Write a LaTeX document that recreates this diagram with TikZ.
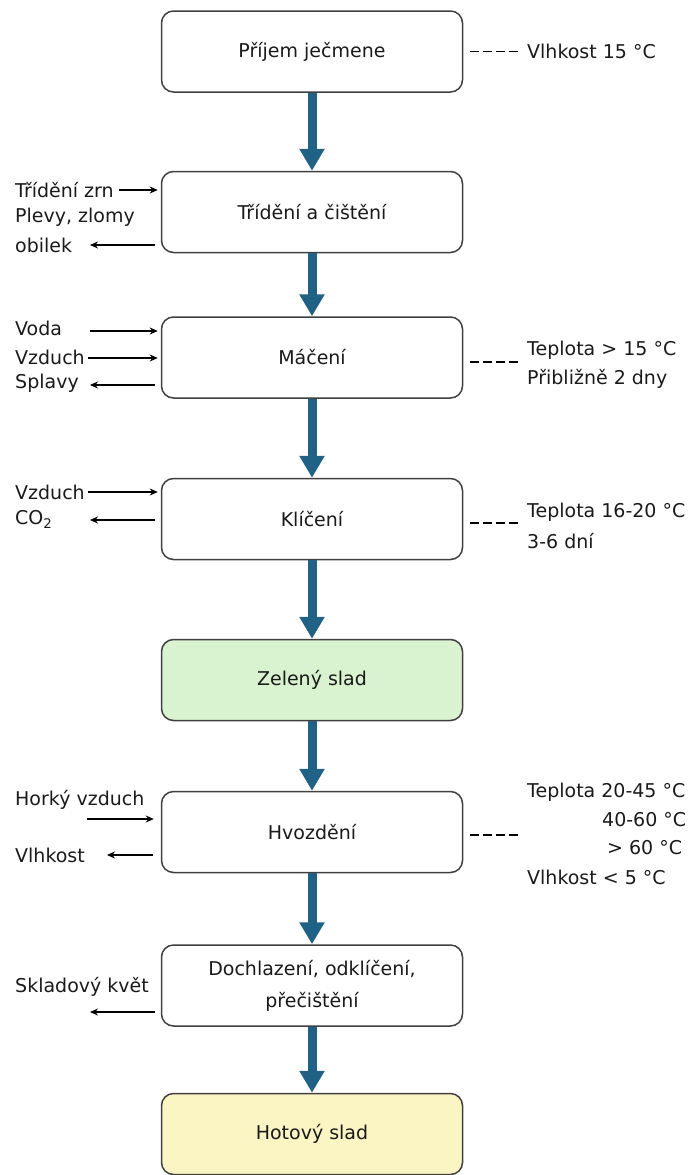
\documentclass[tikz,border=0pt]{standalone}
\usepackage{fontspec}
\setmainfont{DejaVu Sans}
\usetikzlibrary{arrows.meta}
\definecolor{flowblue}{HTML}{1F6285}
\definecolor{boxline}{HTML}{404040}
\definecolor{greenfill}{HTML}{D9F2D0}
\definecolor{yellowfill}{HTML}{FAF5C2}
\definecolor{txt}{HTML}{1A1A1A}
\tikzset{
  procbox/.style={draw=boxline, line width=1.5pt, rounded corners=12pt, fill=white,
    minimum width=301pt, minimum height=81pt, align=center, inner sep=2pt,
    font=\fontsize{19}{32}\selectfont, text=txt},
  flow/.style={draw=flowblue, line width=9pt, -{Triangle[width=24pt,length=22pt]}},
  sidearrow/.style={draw=black, line width=1.2pt, -{Stealth[length=8pt,width=7pt]}},
  dashline/.style={draw=black, line width=1.2pt, dash pattern=on 9pt off 4pt},
  lbl/.style={anchor=west, inner sep=0pt, font=\fontsize{19}{23}\selectfont, text=txt}
}
\begin{document}
\begin{tikzpicture}[x=1pt,y=-1pt]
\useasboundingbox (0,0) rectangle (693,1175);
% boxes
\node[procbox] (b1) at (312,51.5) {Příjem ječmene};
\node[procbox] (b2) at (312,212) {Třídění a čištění};
\node[procbox] (b3) at (312,357.5) {Máčení};
\node[procbox] (b4) at (312,519) {Klíčení};
\node[procbox, fill=greenfill] (b5) at (312,680) {Zelený slad};
\node[procbox] (b6) at (312,832) {Hvozdění};
\node[procbox] (b7) at (312,985.5) {Dochlazení, odklíčení,\\přečištění};
\node[procbox, fill=yellowfill] (b8) at (312,1134) {Hotový slad};
% main flow
\draw[flow] (b1.south) -- (b2.north);
\draw[flow] (b2.south) -- (b3.north);
\draw[flow] (b3.south) -- (b4.north);
\draw[flow] (b4.south) -- (b5.north);
\draw[flow] (b5.south) -- (b6.north);
\draw[flow] (b6.south) -- (b7.north);
\draw[flow] (b7.south) -- (b8.north);
% right notes
\node[lbl] (r1) at (527,51) {Vlhkost 15 °C};
\draw[dashline] ([xshift=7pt]b1.east) -- ++(48,0);
\node[lbl] (r3a) at (527,350) {Teplota > 15 °C};
\node[lbl] (r3b) at (527,379) {Přibližně 2 dny};
\draw[dashline] ([xshift=7pt,yshift=-4.5pt]b3.east) -- ++(48,0);
\node[lbl] (r4a) at (527,512) {Teplota 16-20 °C};
\node[lbl] (r4b) at (527,541) {3-6 dní};
\draw[dashline] ([xshift=7pt,yshift=-4pt]b4.east) -- ++(48,0);
\node[lbl] (r6a) at (527,792) {Teplota 20-45 °C};
\node[lbl] (r6b) at (602,820) {40-60 °C};
\node[lbl] (r6c) at (607,848) {> 60 °C};
\node[lbl] (r6d) at (527,877) {Vlhkost < 5 °C};
\draw[dashline] ([xshift=7pt,yshift=-3pt]b6.east) -- ++(48,0);
% left notes
\node[lbl] (l2a) at (15,190) {Třídění zrn};
\node[lbl] (l2b) at (15,217) {Plevy, zlomy};
\node[lbl] (l2c) at (15,245) {obilek};
\coordinate (a2a) at (119,190);
\coordinate (a2c) at (90,245);
\draw[sidearrow, shorten >=3pt] (a2a) -- (a2a -| b2.west);
\draw[sidearrow, shorten <=6pt] (a2c -| b2.west) -- (a2c);
\node[lbl] (l3a) at (15,328) {Voda};
\node[lbl] (l3b) at (15,357) {Vzduch};
\node[lbl] (l3c) at (15,383) {Splavy};
\coordinate (a3a) at (90,331);
\coordinate (a3b) at (88,358);
\coordinate (a3c) at (90,385);
\draw[sidearrow, shorten >=3pt] (a3a) -- (a3a -| b3.west);
\draw[sidearrow, shorten >=3pt] (a3b) -- (a3b -| b3.west);
\draw[sidearrow, shorten <=6pt] (a3c -| b3.west) -- (a3c);
\node[lbl] (l4a) at (15,492) {Vzduch};
\node[lbl] (l4b) at (15,519) {CO\textsubscript{2}};
\coordinate (a4a) at (88,492);
\coordinate (a4b) at (90,520);
\draw[sidearrow, shorten >=3pt] (a4a) -- (a4a -| b4.west);
\draw[sidearrow, shorten <=6pt] (a4b -| b4.west) -- (a4b);
\node[lbl] (l6a) at (15,800) {Horký vzduch};
\node[lbl] (l6b) at (15,855) {Vlhkost};
\coordinate (a6a) at (87,819);
\coordinate (a6b) at (107,855);
\draw[sidearrow, shorten >=7pt] (a6a) -- (a6a -| b6.west);
\draw[sidearrow, shorten <=8pt] (a6b -| b6.west) -- (a6b);
\node[lbl] (l7a) at (15,987) {Skladový květ};
\coordinate (a7a) at (90,1012);
\draw[sidearrow, shorten <=6pt] (a7a -| b7.west) -- (a7a);
\end{tikzpicture}
\end{document}
